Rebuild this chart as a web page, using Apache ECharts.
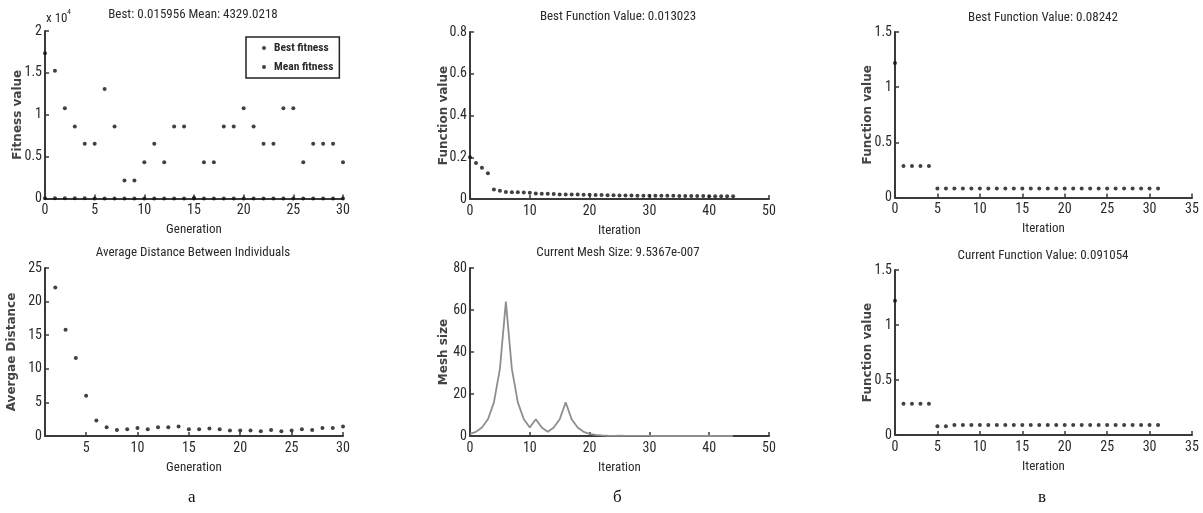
<!DOCTYPE html>
<html>
<head>
<meta charset="utf-8">
<script src="https://cdn.jsdelivr.net/npm/echarts@6/dist/echarts.min.js"></script>
<style>html,body{margin:0;padding:0;background:#fff}#c{width:1203px;height:513px}</style>
</head>
<body>
<div id="c"></div>
<script>
// ---- Data ----
const generations = [0,1,2,3,4,5,6,7,8,9,10,11,12,13,14,15,16,17,18,19,20,21,22,23,24,25,26,27,28,29,30];
const bestFitness = [40,30,25,20,15,12,10,8,6,5,4,3,3,2,2,2,1,1,1,1,0.5,0.5,0.3,0.2,0.1,0.05,0.03,0.02,0.016,0.016,0.015956];
const meanFitness = [17340,15240,10790,8610,6550,6550,13060,8610,2140,2140,4329,6550,4329,8610,8610,60,4329,4329,8610,8610,10790,8610,6550,6550,10790,10790,4329,6550,6550,6550,4329.0218];

const distGenerations = [2,3,4,5,6,7,8,9,10,11,12,13,14,15,16,17,18,19,20,21,22,23,24,25,26,27,28,29,30];
const avgDistance = [22.1,15.8,11.6,6.0,2.3,1.3,0.9,1.0,1.2,1.0,1.3,1.3,1.4,1.0,1.0,1.1,1.0,0.8,0.8,0.8,0.7,0.9,0.7,0.8,1.0,0.9,1.2,1.2,1.4];
const distXTicks = [5,10,15,20,25,30];

const psIterations = [0,1,2,3,4,5,6,7,8,9,10,11,12,13,14,15,16,17,18,19,20,21,22,23,24,25,26,27,28,29,30,31,32,33,34,35,36,37,38,39,40,41,42,43,44];
const psBestValue = [0.200,0.172,0.150,0.123,0.046,0.040,0.033,0.032,0.032,0.031,0.030,0.026,0.025,0.025,0.024,0.022,0.022,0.021,0.021,0.020,0.020,0.019,0.019,0.018,0.018,0.017,0.017,0.017,0.016,0.016,0.016,0.015,0.015,0.015,0.015,0.014,0.014,0.014,0.014,0.014,0.013,0.013,0.013,0.013,0.013023];
const meshSize = [1,2,4,8,16,32,64,32,16,8,4,8,4,2,4,8,16,8,4,2,1,0.5,0.25,0.125,0.0625,0.125,0.0625,0.03125,0.015625,0.03125,0.015625,0.0078125,0.00390625,0.001953125,0.0009765625,0.00048828125,0.000244140625,0.0001220703125,0.00006103515625,0.000030517578125,0.0000152587890625,0.00000762939453125,0.000003814697265625,0.0000019073486328125,0.00000095367431640625];

const gaIterations = [0,1,2,3,4,5,6,7,8,9,10,11,12,13,14,15,16,17,18,19,20,21,22,23,24,25,26,27,28,29,30,31];
const gaBestValue = [1.22,0.285,0.285,0.285,0.285,0.08242,0.08242,0.08242,0.08242,0.08242,0.08242,0.08242,0.08242,0.08242,0.08242,0.08242,0.08242,0.08242,0.08242,0.08242,0.08242,0.08242,0.08242,0.08242,0.08242,0.08242,0.08242,0.08242,0.08242,0.08242,0.08242,0.08242];
const gaCurrentValue = [1.22,0.285,0.285,0.285,0.285,0.079,0.079,0.091054,0.091054,0.091054,0.091054,0.091054,0.091054,0.091054,0.091054,0.091054,0.091054,0.091054,0.091054,0.091054,0.091054,0.091054,0.091054,0.091054,0.091054,0.091054,0.091054,0.091054,0.091054,0.091054,0.091054,0.091054];

const pairs = (xs, ys) => xs.map((x, i) => [x, ys[i]]);

// ---- Styles ----
const NARROW = '"Roboto Condensed","DejaVu Sans Condensed",sans-serif';
const TXT = '#2a2a2a';
const AX = '#3a3a3a';

function xAx(grid, min, max, interval, name, gap, extra) {
  const a = {
    type: 'value', gridIndex: grid, min: min, max: max, interval: interval,
    name: name, nameLocation: 'middle', nameGap: gap, nameMoveOverlap: false,
    nameTextStyle: {fontFamily: NARROW, fontSize: 13, color: TXT},
    axisLine: {onZero: false, lineStyle: {color: AX, width: 2}},
    axisTick: {inside: true, length: 4, lineStyle: {color: AX, width: 1.5}},
    axisLabel: {fontFamily: NARROW, fontSize: 14, color: TXT, margin: 5},
    splitLine: {show: false}
  };
  if (extra) Object.assign(a.axisTick, extra.tick || {}), Object.assign(a.axisLabel, extra.label || {});
  return a;
}
function yAx(grid, max, interval, name, gap, fmt) {
  return {
    type: 'value', gridIndex: grid, min: 0, max: max, interval: interval,
    name: name, nameLocation: 'middle', nameGap: gap, nameRotate: 90, nameMoveOverlap: false,
    nameTextStyle: {fontFamily: '"DejaVu Sans",sans-serif', fontWeight: 'bold', fontSize: 12, color: '#444'},
    axisLine: {show: true, onZero: false, lineStyle: {color: AX, width: 2}},
    axisTick: {show: true, inside: true, length: 4, lineStyle: {color: AX, width: 1.5}},
    axisLabel: {fontFamily: NARROW, fontSize: 14, color: TXT, margin: 3, formatter: fmt},
    splitLine: {show: false}
  };
}
const dotStyle = {color: '#111'};

const titleStyle = {fontFamily: NARROW, fontSize: 13, fontWeight: 'normal', color: TXT};
function ttl(text, cx, top) {
  return {text: text, left: cx, top: top, textAlign: 'center', textStyle: titleStyle, padding: 0};
}

const option = {
  animation: false,
  backgroundColor: '#fff',
  title: [
    ttl('Best: 0.015956 Mean: 4329.0218', 193, 8),
    ttl('Average Distance Between Individuals', 193, 246),
    ttl('Best Function Value: 0.013023', 618, 10),
    ttl('Current Mesh Size: 9.5367e-007', 618, 246),
    ttl('Best Function Value: 0.08242', 1043, 11),
    ttl('Current Function Value: 0.091054', 1043, 249)
  ],
  legend: {
    data: ['Best fitness', 'Mean fitness'],
    orient: 'vertical', left: 246, top: 37,
    icon: 'circle', itemWidth: 10, itemHeight: 4, itemGap: 7,
    padding: [5, 6, 5, 16],
    borderColor: '#222', borderWidth: 1.5,
    textStyle: {fontFamily: NARROW, fontSize: 11.5, fontWeight: 'bold', color: TXT}
  },
  grid: [
    {left: 45, top: 31, width: 298, height: 167.5},
    {left: 45, top: 268, width: 298, height: 168},
    {left: 470, top: 32, width: 299, height: 167},
    {left: 470, top: 268, width: 299, height: 168},
    {left: 895, top: 32, width: 297, height: 165.5},
    {left: 895, top: 270, width: 297, height: 165}
  ],
  xAxis: [
    xAx(0, 0, 30, 5, 'Generation', 25),
    xAx(1, 1, 30, 1, 'Generation', 25, {tick: {customValues: distXTicks}, label: {customValues: distXTicks}}),
    xAx(2, 0, 50, 10, 'Iteration', 25),
    xAx(3, 0, 50, 10, 'Iteration', 25),
    xAx(4, 0, 35, 5, 'Iteration', 25),
    xAx(5, 0, 35, 5, 'Iteration', 25)
  ],
  yAxis: [
    yAx(0, 20000, 5000, 'Fitness value', 21, v => String(v / 10000)),
    yAx(1, 25, 5, 'Avergae Distance', 27),
    yAx(2, 0.8, 0.2, 'Function value', 20),
    yAx(3, 80, 20, 'Mesh size', 20),
    yAx(4, 1.5, 0.5, 'Function value', 21),
    yAx(5, 1.5, 0.5, 'Function value', 21)
  ],
  series: [
    {name: 'Best fitness', type: 'scatter', xAxisIndex: 0, yAxisIndex: 0, symbol: 'circle', symbolSize: 4, itemStyle: dotStyle, data: pairs(generations, bestFitness)},
    {name: 'Mean fitness', type: 'scatter', xAxisIndex: 0, yAxisIndex: 0, symbol: 'circle', symbolSize: 4, itemStyle: dotStyle, data: pairs(generations, meanFitness)},
    {type: 'scatter', xAxisIndex: 1, yAxisIndex: 1, symbol: 'circle', symbolSize: 4, itemStyle: dotStyle, data: pairs(distGenerations, avgDistance)},
    {type: 'scatter', xAxisIndex: 2, yAxisIndex: 2, symbol: 'circle', symbolSize: 4, itemStyle: dotStyle, data: pairs(psIterations, psBestValue)},
    {type: 'line', xAxisIndex: 3, yAxisIndex: 3, showSymbol: false, symbol: 'none', lineStyle: {color: '#8e8e8e', width: 1.8}, data: pairs(psIterations, meshSize)},
    {type: 'scatter', xAxisIndex: 4, yAxisIndex: 4, symbol: 'circle', symbolSize: 4, itemStyle: dotStyle, data: pairs(gaIterations, gaBestValue)},
    {type: 'scatter', xAxisIndex: 5, yAxisIndex: 5, symbol: 'circle', symbolSize: 4, itemStyle: dotStyle, data: pairs(gaIterations, gaCurrentValue)}
  ],
  graphic: [
    {type: 'text', left: 46, top: 12, style: {text: 'x 10', font: '13px ' + NARROW, fill: TXT}},
    {type: 'text', left: 67, top: 8, style: {text: '4', font: '8px ' + NARROW, fill: TXT}},
    {type: 'text', left: 188, top: 489, style: {text: 'а', font: '17px "Liberation Serif",serif', fill: '#111'}},
    {type: 'text', left: 613, top: 489, style: {text: 'б', font: '17px "Liberation Serif",serif', fill: '#111'}},
    {type: 'text', left: 1038, top: 489, style: {text: 'в', font: '17px "Liberation Serif",serif', fill: '#111'}}
  ]
};
echarts.init(document.getElementById('c'), null, {renderer: 'canvas'}).setOption(option);
</script>
</body>
</html>
